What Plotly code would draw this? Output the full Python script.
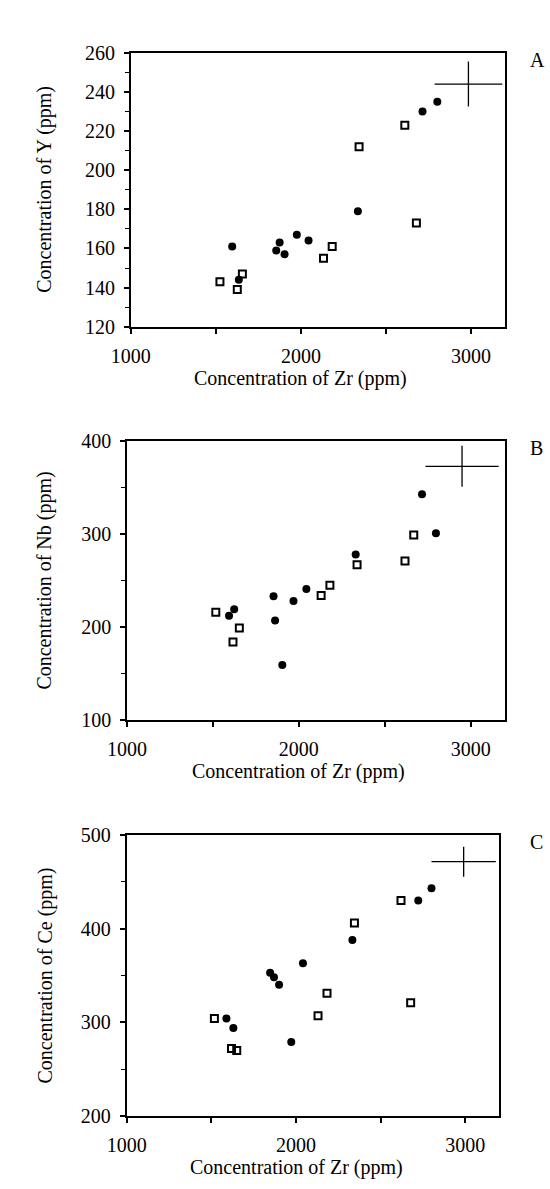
import plotly.graph_objects as go

# ---------------- data ----------------
# Panel A: Y vs Zr
a_zr_circ = [1596, 1635, 1855, 1875, 1904, 1976, 2045, 2335, 2715, 2802]
a_y_circ = [161, 144, 159, 163, 157, 167, 164, 179, 230, 235]
a_zr_sq = [1524, 1626, 1656, 2133, 2184, 2342, 2611, 2679]
a_y_sq = [143, 139, 147, 155, 161, 212, 223, 173]
a_err = dict(x=2985, y=244, ex=199, ey=11.5)

# Panel B: Nb vs Zr
b_zr_circ = [1594, 1624, 1853, 1862, 1904, 1969, 2044, 2331, 2717, 2798]
b_nb_circ = [212, 219, 233, 207, 159, 228, 241, 278, 343, 301]
b_zr_sq = [1517, 1617, 1654, 2130, 2181, 2339, 2618, 2669]
b_nb_sq = [216, 184, 199, 234, 245, 267, 271, 299]
b_err = dict(x=2950, y=373, ex=213, ey=22)

# Panel C: Ce vs Zr
c_zr_circ = [1589, 1630, 1847, 1870, 1900, 1972, 2041, 2333, 2722, 2800]
c_ce_circ = [304, 294, 353, 348, 340, 279, 363, 388, 430, 443]
c_zr_sq = [1518, 1619, 1650, 2130, 2183, 2345, 2620, 2677]
c_ce_sq = [304, 272, 270, 307, 331, 406, 430, 321]
c_err = dict(x=2990, y=471.5, ex=190, ey=16)

x_ticks = [1000, 2000, 3000]
a_yticks = [120, 140, 160, 180, 200, 220, 240, 260]
b_yticks = [100, 200, 300, 400]
c_yticks = [200, 300, 400, 500]

# ---------------- layout helpers ----------------
W, H = 550, 1189
FONT = "Liberation Serif"
FS = 20
XRANGE = [1000, 3200]


def px_x(p):
    return p / W


def px_y(p):
    return 1 - p / H


panels = [
    dict(name="A", xcirc=a_zr_circ, ycirc=a_y_circ, xsq=a_zr_sq, ysq=a_y_sq, err=a_err,
         yticks=a_yticks, yrange=[120, 260], yminor=10,
         xdom=[115, 503.3], ydom=[42.5, 321.7], ytitle="Concentration of Y (ppm)"),
    dict(name="B", xcirc=b_zr_circ, ycirc=b_nb_circ, xsq=b_zr_sq, ysq=b_nb_sq, err=b_err,
         yticks=b_yticks, yrange=[100, 400], yminor=50,
         xdom=[111, 503.3], ydom=[438.3, 722.3], ytitle="Concentration of Nb (ppm)"),
    dict(name="C", xcirc=c_zr_circ, ycirc=c_ce_circ, xsq=c_zr_sq, ysq=c_ce_sq, err=c_err,
         yticks=c_yticks, yrange=[200, 500], yminor=50,
         xdom=[110.7, 497.3], ydom=[839.5, 1125.8], ytitle="Concentration of Ce (ppm)"),
]

fig = go.Figure()
layout = dict(
    width=W, height=H,
    margin=dict(l=0, r=0, t=0, b=0),
    paper_bgcolor="white", plot_bgcolor="white",
    showlegend=False,
    font=dict(family=FONT, size=FS, color="black"),
)
annotations = []

for i, p in enumerate(panels):
    sfx = "" if i == 0 else str(i + 1)
    xa, ya = "x" + sfx, "y" + sfx
    fig.add_trace(go.Scatter(
        x=p["xsq"], y=p["ysq"], mode="markers", xaxis=xa, yaxis=ya,
        marker=dict(symbol="square-open", size=7, color="black", line=dict(width=2, color="black")),
    ))
    fig.add_trace(go.Scatter(
        x=p["xcirc"], y=p["ycirc"], mode="markers", xaxis=xa, yaxis=ya,
        marker=dict(symbol="circle", size=8, color="black", line=dict(width=0)),
    ))
    e = p["err"]
    fig.add_trace(go.Scatter(
        x=[e["x"]], y=[e["y"]], mode="markers", xaxis=xa, yaxis=ya,
        marker=dict(size=1, color="black", opacity=0),
        error_x=dict(type="constant", value=e["ex"], width=0, thickness=1.3, color="black"),
        error_y=dict(type="constant", value=e["ey"], width=0, thickness=1.3, color="black"),
    ))
    common = dict(
        showline=True, linewidth=1.6, linecolor="black", mirror=True,
        ticks="outside", ticklen=5, tickwidth=1.5, tickcolor="black",
        showgrid=False, zeroline=False,
        tickfont=dict(family=FONT, size=FS, color="black"),
    )
    layout["xaxis" + sfx] = dict(
        common, domain=[px_x(p["xdom"][0]), px_x(p["xdom"][1])],
        range=XRANGE, tickvals=x_ticks, anchor=ya,
        minor=dict(dtick=500, tick0=1000, ticks="outside", ticklen=5, tickwidth=1.5, tickcolor="black", showgrid=False),
        ticklabelstandoff=5,
    )
    layout["yaxis" + sfx] = dict(
        common, domain=[px_y(p["ydom"][1]), px_y(p["ydom"][0])],
        range=p["yrange"], tickvals=p["yticks"], anchor=xa,
        minor=dict(dtick=p["yminor"], tick0=p["yrange"][0], ticks="outside", ticklen=4, tickwidth=1.3, tickcolor="black", showgrid=False),
        ticklabelstandoff=5,
    )
    # x-axis title: centred under the middle labelled tick, as in the original
    x0, x1 = p["xdom"]
    mid_tick = x_ticks[1]
    xmid = x0 + (mid_tick - XRANGE[0]) / (XRANGE[1] - XRANGE[0]) * (x1 - x0)
    annotations.append(dict(
        text="Concentration of Zr (ppm)", xref="paper", yref="paper",
        x=px_x(xmid), y=px_y(p["ydom"][1] + 53), xanchor="center", yanchor="middle",
        showarrow=False, font=dict(family=FONT, size=FS, color="black"),
    ))
    # y-axis title
    ymid = (p["ydom"][0] + p["ydom"][1]) / 2
    annotations.append(dict(
        text=p["ytitle"], xref="paper", yref="paper",
        x=px_x(26), y=px_y(ymid), xanchor="center", yanchor="middle", textangle=-90,
        showarrow=False, font=dict(family=FONT, size=FS, color="black"),
    ))
    # panel letter
    annotations.append(dict(
        text=p["name"], xref="paper", yref="paper",
        x=px_x(527), y=px_y(p["ydom"][0] + 7), xanchor="left", yanchor="middle",
        showarrow=False, font=dict(family=FONT, size=FS, color="black"),
    ))

layout["annotations"] = annotations
fig.update_layout(**layout)
fig.write_html("out.html", config={"displayModeBar": False},
               post_script="document.body.style.margin='0';")
